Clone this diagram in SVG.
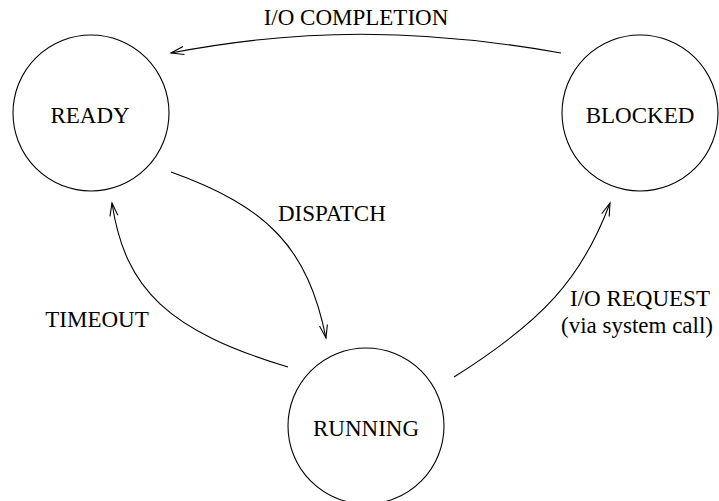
<svg xmlns="http://www.w3.org/2000/svg" width="719" height="501" viewBox="0 0 719 501">
<style>
.node{fill:none;stroke:#000;stroke-width:1.1}
.edge{fill:none;stroke:#000;stroke-width:1.1;marker-end:url(#ah)}
text{font-family:"Liberation Serif","Times New Roman",serif;font-size:23px;fill:#000}
.c{text-anchor:middle}
</style>
<defs>
<marker id="ah" markerUnits="userSpaceOnUse" markerWidth="16" markerHeight="10" viewBox="0 0 16 10" refX="13" refY="4" orient="auto" overflow="visible">
<path d="M0,0 L13,4 L0,8" fill="none" stroke="#000" stroke-width="1.1"/>
</marker>
</defs>
<rect width="719" height="501" fill="#fff"/>
<g id="ready"><circle class="node" cx="91" cy="113" r="78"/><text class="c" x="90" y="123">READY</text></g>
<g id="blocked"><circle class="node" cx="640" cy="113" r="78"/><text class="c" x="640" y="123">BLOCKED</text></g>
<g id="running"><circle class="node" cx="366" cy="426" r="78"/><text class="c" x="366" y="436">RUNNING</text></g>
<g id="connectors">
<path class="edge" d="M561,53 C420,28 300,28 171,53"/>
<path class="edge" d="M171,172 C269,207 308,249 326,338"/>
<path class="edge" d="M288,367 C169,331 125,290 112,203"/>
<path class="edge" d="M454,377 C543,321 582,278 610,203"/>
</g>
<g id="labels">
<text class="c" x="356" y="25">I/O COMPLETION</text>
<text x="278" y="221">DISPATCH</text>
<text class="c" x="97" y="327">TIMEOUT</text>
<text class="c" x="640" y="306">I/O REQUEST</text>
<text class="c" x="637" y="333">(via system call)</text>
</g>
</svg>
